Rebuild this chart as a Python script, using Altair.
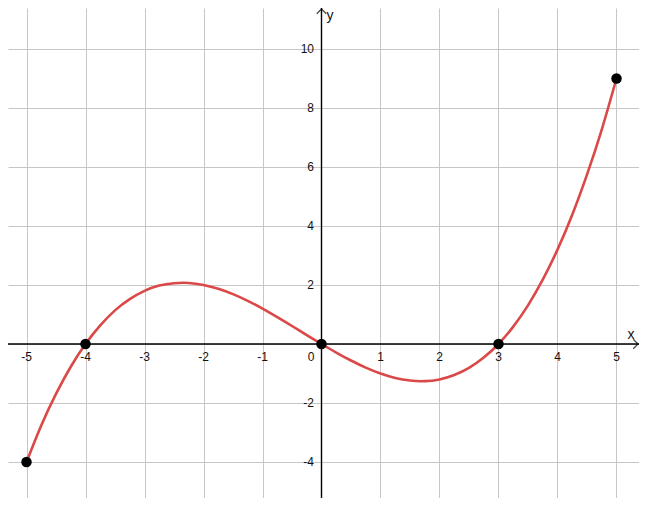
import altair as alt
import pandas as pd

# Curve values
curve_x = [-5, -4.75, -4.5, -4.25, -4, -3.75, -3.5, -3.25, -3, -2.75, -2.5, -2.25, -2,
           -1.75, -1.5, -1.25, -1, -0.75, -0.5, -0.25, 0, 0.25, 0.5, 0.75, 1, 1.25, 1.5,
           1.75, 2, 2.25, 2.5, 2.75, 3, 3.25, 3.5, 3.75, 4, 4.25, 4.5, 4.75, 5]
curve_y = [-4.0, -2.76, -1.69, -0.77, 0.0, 0.63, 1.14, 1.52, 1.8, 1.98, 2.06, 2.07, 2.0,
           1.87, 1.69, 1.46, 1.2, 0.91, 0.61, 0.30, 0.0, -0.29, -0.56, -0.80, -1.0, -1.15, -1.24,
           -1.26, -1.2, -1.05, -0.81, -0.46, 0.0, 0.59, 1.31, 2.18, 3.2, 4.38, 5.74, 7.27, 9.0]

# Marked points
pt_x = [-5, -4, 0, 3, 5]
pt_y = [-4, 0, 0, 0, 9]

# Tick labels
x_ticks = [-5, -4, -3, -2, -1, 1, 2, 3, 4, 5]
y_ticks = [-4, -2, 2, 4, 6, 8, 10]
x_grid = [-5, -4, -3, -2, -1, 0, 1, 2, 3, 4, 5]
y_grid = [-4, -2, 0, 2, 4, 6, 8, 10]

W, H = 631, 490
x_dom = [-5.3136, 5.3814]
y_dom = [-5.2203, 11.390]

curve_df = pd.DataFrame({"x": curve_x, "y": curve_y})
pts_df = pd.DataFrame({"x": pt_x, "y": pt_y})
xt_df = pd.DataFrame({"x": x_ticks, "label": [str(v) for v in x_ticks]})
yt_df = pd.DataFrame({"y": y_ticks, "label": [str(v) for v in y_ticks]})

FONT = "Liberation Sans"

xs = alt.Scale(domain=x_dom, nice=False, zero=False)
ys = alt.Scale(domain=y_dom, nice=False, zero=False)

grid_axis_x = alt.Axis(values=x_grid, grid=True, labels=False, ticks=False, domain=False,
                       title=None, gridColor="#c6c6c6", gridWidth=1)
grid_axis_y = alt.Axis(values=y_grid, grid=True, labels=False, ticks=False, domain=False,
                       title=None, gridColor="#c6c6c6", gridWidth=1)

grid_layer = alt.Chart(curve_df).mark_line(strokeOpacity=0).encode(
    x=alt.X("x:Q", scale=xs, axis=grid_axis_x),
    y=alt.Y("y:Q", scale=ys, axis=grid_axis_y),
)

curve = alt.Chart(curve_df).mark_line(
    color="#db4848", strokeWidth=2.6, interpolate="natural"
).encode(x="x:Q", y="y:Q")

x_axis = alt.Chart().mark_rule(color="black", strokeWidth=1.4).encode(y=alt.datum(0))
y_axis = alt.Chart().mark_rule(color="black", strokeWidth=1.4).encode(x=alt.datum(0))

arrow_x = alt.Chart().mark_point(
    shape="M-1,-1L0,0L-1,1", size=90, filled=False, color="black", strokeWidth=1.3
).encode(x=alt.value(W - 1), y=alt.datum(0))
arrow_y = alt.Chart().mark_point(
    shape="M-1,1L0,0L1,1", size=90, filled=False, color="black", strokeWidth=1.3
).encode(x=alt.datum(0), y=alt.value(1))

points = alt.Chart(pts_df).mark_circle(color="black", size=110, opacity=1).encode(
    x="x:Q", y="y:Q"
)

xlabels = alt.Chart(xt_df).mark_text(
    font=FONT, fontSize=12, color="#111111", baseline="middle", align="center"
).encode(x="x:Q", y=alt.value(349), text="label:N")

ylabels = alt.Chart(yt_df).mark_text(
    font=FONT, fontSize=12, color="#111111", baseline="middle", align="right"
).encode(y="y:Q", x=alt.value(306), text="label:N")

zero_label = alt.Chart().mark_text(
    font=FONT, fontSize=12, color="#111111", baseline="middle", align="center", text="0"
).encode(x=alt.value(303), y=alt.value(349))

x_name = alt.Chart().mark_text(
    font=FONT, fontSize=14, color="#111111", baseline="middle", align="center", text="x"
).encode(x=alt.value(623), y=alt.value(327))
y_name = alt.Chart().mark_text(
    font=FONT, fontSize=14, color="#111111", baseline="middle", align="center", text="y"
).encode(x=alt.value(322), y=alt.value(8))

chart = alt.layer(
    grid_layer, x_axis, y_axis, arrow_x, arrow_y, curve, points,
    xlabels, ylabels, zero_label, x_name, y_name
).properties(
    width=W, height=H, padding=0, autosize=alt.AutoSizeParams(type="none"),
    background="white"
).configure_view(stroke=None)

chart.save("out.html", embed_options={"renderer": "svg", "actions": False})
